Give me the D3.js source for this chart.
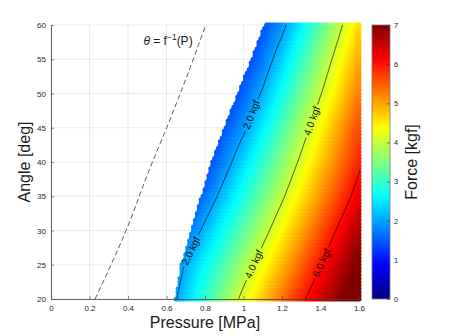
<!DOCTYPE html>
<html><head><meta charset="utf-8">
<script src="https://cdn.jsdelivr.net/npm/d3@7"></script>
<style>body{margin:0;background:#fff} svg{display:block} text{font-family:"Liberation Sans",Arial,Helvetica,sans-serif}</style>
</head><body><svg id="c" width="449" height="336"></svg>
<script>
// ---------------- data ----------------
const angles = [20,25,30,35,40,45,50,55,60];                 // deg
const pressures = [0.6,0.7,0.8,0.9,1.0,1.1,1.2,1.3,1.4,1.5,1.6]; // MPa
// force [kgf] per angle row (null = outside measured region)
const force20 = [null,2.29,2.92,3.54,4.16,4.73,5.31,5.89,6.40,6.90,7.40];
const force25 = [null,2.04,2.60,3.15,3.71,4.27,4.85,5.42,6.00,6.53,7.06];
const force30 = [null,null,2.13,2.69,3.24,3.80,4.37,4.96,5.54,6.12,6.67];
const force35 = [null,null,1.64,2.21,2.78,3.35,3.92,4.50,5.08,5.66,6.24];
const force40 = [null,null,null,1.77,2.35,2.94,3.52,4.11,4.70,5.29,5.88];
const force45 = [null,null,null,null,1.90,2.51,3.13,3.74,4.36,4.98,5.60];
const force50 = [null,null,null,null,1.55,2.06,2.70,3.34,3.97,4.61,5.25];
const force55 = [null,null,null,null,null,1.69,2.28,2.95,3.61,4.27,4.94];
const force60 = [null,null,null,null,null,null,1.86,2.52,3.21,3.90,4.59];
const forceRows = [force20,force25,force30,force35,force40,force45,force50,force55,force60];
// left edge of measured region and force there
const edgeP = [0.648,0.68,0.732,0.785,0.84,0.905,0.975,1.045,1.112];
const edgeF = [1.96,1.93,1.75,1.55,1.47,1.45,1.43,1.42,1.45];
// contour levels and label spots (level, angle)
const levels = [2,4,6];
const labelLevels = [2,2,4,4,6];
const labelAngles = [46.9,27.0,46.0,25.1,25.3];
// theta = f^-1(P) dashed curve
const curveP = [0.229,0.39,0.514,0.601,0.739,0.804];
const curveA = [20,30,39.1,45,55,60];
// ticks
const xTicks = [0,0.2,0.4,0.6,0.8,1,1.2,1.4,1.6];
const yTicks = [20,25,30,35,40,45,50,55,60];
const cTicks = [0,1,2,3,4,5,6,7];

// ---------------- helpers ----------------
const svg = d3.select("#c");
const x = d3.scaleLinear([0,1.6],[51,359]);
const y = d3.scaleLinear([20,60],[299,25]);
const cb = d3.scaleLinear([0,7],[299,25]);
function jet(v){
  const t = Math.max(0,Math.min(1,v/7));
  const c = u => Math.round(255*Math.max(0,Math.min(1,1.5-Math.abs(4*t-u))));
  return `rgb(${c(3)},${c(2)},${c(1)})`;
}
const anchors = forceRows.map((row,i)=>{
  const a=[[edgeP[i],edgeF[i]]];
  row.forEach((v,j)=>{ if(v!=null && pressures[j]>edgeP[i]+1e-9) a.push([pressures[j],v]); });
  return a;
});
function rowVal(i,p){
  const a=anchors[i]; let k=0;
  while(k<a.length-2 && p>a[k+1][0]) k++;
  const [p0,v0]=a[k],[p1,v1]=a[k+1];
  return v0+(v1-v0)*(p-p0)/(p1-p0);
}
function rowIdx(th){
  const tc=Math.max(20,Math.min(60,th));
  const k=Math.min(angles.length-2,Math.floor((tc-20)/5));
  return [k,(tc-angles[k])/(angles[k+1]-angles[k])];
}
function field(p,th){ const [k,t]=rowIdx(th); return (1-t)*rowVal(k,p)+t*rowVal(k+1,p); }
function edgeAt(th){ const [k,t]=rowIdx(th); return (1-t)*edgeP[k]+t*edgeP[k+1]; }

// ---------------- grid ----------------
const gGrid = svg.append("g").attr("stroke","#e3e3e3").attr("stroke-width",0.7);
xTicks.forEach(v=>gGrid.append("line").attr("x1",x(v)).attr("x2",x(v)).attr("y1",y(20)).attr("y2",y(60)));
yTicks.forEach(v=>gGrid.append("line").attr("x1",x(0)).attr("x2",x(1.6)).attr("y1",y(v)).attr("y2",y(v)));

// ---------------- field (scatter of markers) ----------------
const gField = svg.append("g");
const pGrid = d3.range(0,101).map(i=>+(0.6+i*0.01).toFixed(3));
const aGrid = d3.range(0,81).map(j=>20+j*0.5);
const pts=[];
aGrid.forEach(a=>{ const e=edgeAt(a); pGrid.forEach(p=>{ if(p>=e-1e-9) pts.push([p,a,field(p,a)]); }); });
gField.selectAll("circle").data(pts).join("circle")
  .attr("cx",d=>x(d[0])).attr("cy",d=>y(d[1])).attr("r",2.5).attr("fill",d=>jet(d[2]));

// ---------------- contours ----------------
const P0=0.5,dP=0.005,nx=241,T0=18,dT=0.1,ny=441;
const vals=new Float64Array(nx*ny);
for(let j=0;j<ny;j++) for(let i=0;i<nx;i++) vals[j*nx+i]=field(P0+i*dP,T0+j*dT);
const conts=d3.contours().size([nx,ny]).thresholds(levels)(vals);
const proj=d3.geoTransform({point(px,py){ this.stream.point(x(P0+(px-0.5)*dP), y(T0+(py-0.5)*dT)); }});
const gpath=d3.geoPath(proj);
const defs=svg.append("defs");
const clipPts=angles.map((a,i)=>[x(edgeP[i]),y(a)]).concat([[x(1.6)+1,y(60)],[x(1.6)+1,y(20)]]);
defs.append("clipPath").attr("id","reg").append("polygon").attr("points",clipPts.map(p=>p.join(",")).join(" "));

// labels
function solveP(level,th){ let lo=0.3,hi=2.0; for(let n=0;n<50;n++){const m=(lo+hi)/2; if(field(m,th)<level) lo=m; else hi=m;} return (lo+hi)/2; }
const labels = labelLevels.map((lv,i)=>{
  const th=labelAngles[i], p=solveP(lv,th);
  const p1=solveP(lv,th-1), p2=solveP(lv,th+1);
  const ang=Math.atan2(y(th+1)-y(th-1), x(p2)-x(p1))*180/Math.PI;
  return {lv, px:x(p), py:y(th), ang};
});
const mask=defs.append("mask").attr("id","lblmask").attr("maskUnits","userSpaceOnUse")
  .attr("x",0).attr("y",0).attr("width",449).attr("height",336);
mask.append("rect").attr("width",449).attr("height",336).attr("fill","#fff");

const gC = svg.append("g").attr("clip-path","url(#reg)");
gC.append("g").attr("mask","url(#lblmask)").selectAll("path").data(conts).join("path")
  .attr("d",gpath).attr("fill","none").attr("stroke","#111").attr("stroke-width",0.75);
const gL = svg.append("g");
labels.forEach(l=>{
  const t=gL.append("text").attr("transform",`translate(${l.px},${l.py}) rotate(${l.ang})`)
    .attr("text-anchor","middle").attr("dominant-baseline","central")
    .attr("font-size",10).attr("fill","#111").text(d3.format(".1f")(l.lv)+" kgf");
  const w=t.node().getComputedTextLength()+5;
  mask.append("rect").attr("transform",`translate(${l.px},${l.py}) rotate(${l.ang})`)
    .attr("x",-w/2).attr("y",-6).attr("width",w).attr("height",12).attr("fill","#000");
});

// ---------------- dashed curve ----------------
svg.append("path").datum(curveP.map((p,i)=>[p,curveA[i]]))
  .attr("d",d3.line().x(d=>x(d[0])).y(d=>y(d[1])).curve(d3.curveMonotoneY))
  .attr("fill","none").attr("stroke","#333").attr("stroke-width",0.8).attr("stroke-dasharray","5,3");
const ann=svg.append("text").attr("x",x(0.48)).attr("y",y(57.1)).attr("font-size",12).attr("fill","#1a1a1a");
ann.append("tspan").attr("font-style","italic").text("θ");
ann.append("tspan").text(" = f");
ann.append("tspan").attr("font-size",8.5).attr("dy",-5).text("−1");
ann.append("tspan").attr("dy",5).text("(P)");

// ---------------- axes ----------------
const ax=svg.append("g").attr("transform",`translate(0,${y(20)})`)
  .call(d3.axisBottom(x).tickValues(xTicks).tickFormat(d3.format("~g")).tickSizeInner(-3).tickSizeOuter(0).tickPadding(6));
const ay=svg.append("g").attr("transform",`translate(${x(0)},0)`)
  .call(d3.axisLeft(y).tickValues(yTicks).tickSizeInner(-3).tickSizeOuter(0).tickPadding(5));
[ax,ay].forEach(g=>{
  g.select(".domain").attr("stroke","#404040").attr("stroke-width",0.8);
  g.selectAll(".tick line").attr("stroke","#404040").attr("stroke-width",0.6);
  g.selectAll("text").attr("font-size",8).attr("fill","#262626").attr("font-family",null);
});
svg.append("text").attr("x",205).attr("y",328).attr("text-anchor","middle").attr("font-size",16).attr("fill","#1a1a1a").text("Pressure [MPa]");
svg.append("text").attr("transform","translate(30,162) rotate(-90)").attr("text-anchor","middle").attr("font-size",16).attr("fill","#1a1a1a").text("Angle [deg]");

// ---------------- colorbar ----------------
const grad=defs.append("linearGradient").attr("id","jetg").attr("x1",0).attr("y1",1).attr("x2",0).attr("y2",0);
d3.range(0,65).forEach(i=>grad.append("stop").attr("offset",i/64).attr("stop-color",jet(i/64*7)));
svg.append("rect").attr("x",372).attr("y",cb(7)).attr("width",18).attr("height",cb(0)-cb(7))
  .attr("fill","url(#jetg)").attr("stroke","#7a7a7a").attr("stroke-width",0.8);
const ac=svg.append("g").attr("transform","translate(390,0)")
  .call(d3.axisRight(cb).tickValues(cTicks).tickFormat(d3.format("d")).tickSizeInner(-3).tickSizeOuter(0).tickPadding(4));
ac.select(".domain").remove();
ac.selectAll(".tick line").attr("stroke","#333").attr("stroke-width",0.6);
ac.selectAll("text").attr("font-size",7.5).attr("fill","#262626").attr("font-family",null);
svg.append("text").attr("transform","translate(417,162) rotate(-90)").attr("text-anchor","middle").attr("font-size",16).attr("fill","#1a1a1a").text("Force [kgf]");
</script></body></html>
